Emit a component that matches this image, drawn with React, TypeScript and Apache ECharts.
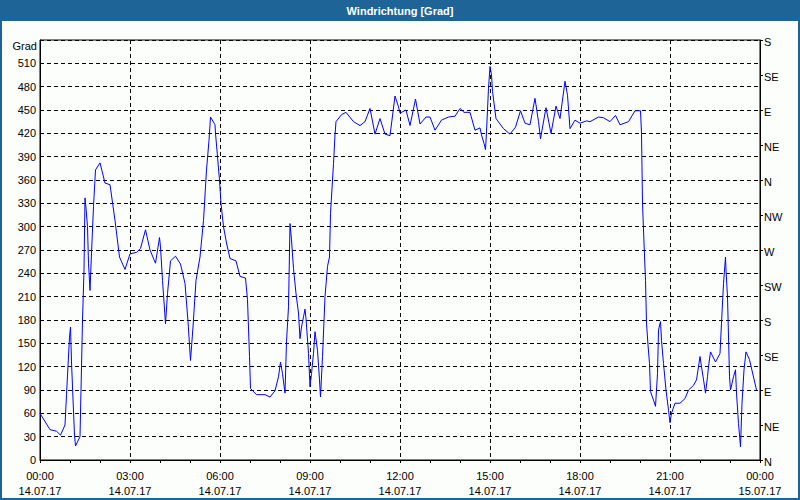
import React, { useEffect, useRef } from "react";
import * as echarts from "echarts";

// minutes since 14.07.17 00:00
const minutes = [
  0, 20, 33, 41, 50, 53, 59, 61, 63, 65, 69, 71, 80, 83, 85, 88, 90, 92, 95, 97,
  100, 103, 107, 111, 120, 130, 140, 150, 159, 170, 180, 193, 201, 211, 220, 231, 239, 241, 245, 251,
  255, 261, 271, 281, 290, 296, 301, 306, 312, 320, 327, 333, 338, 341, 350, 351, 359, 362, 367, 373,
  380, 392, 400, 411, 415, 419, 421, 433, 450, 460, 470, 477, 481, 485, 490, 493, 497, 500, 503, 507,
  512, 517, 520, 523, 527, 530, 532, 537, 540, 543, 547, 550, 555, 559, 561, 565, 570, 575, 579, 581,
  587, 590, 592, 603, 612, 627, 640, 650, 660, 670, 680, 690, 700, 710, 717, 720, 732, 740, 751, 760,
  772, 780, 790, 803, 817, 830, 840, 848, 860, 870, 880, 883, 888, 891, 893, 897, 900, 903, 905, 912,
  927, 940, 951, 961, 970, 980, 990, 997, 1001, 1012, 1022, 1032, 1040, 1050, 1055, 1060, 1070, 1080, 1093, 1100,
  1117, 1127, 1140, 1151, 1160, 1177, 1190, 1201, 1203, 1205, 1208, 1211, 1213, 1216, 1219, 1221, 1227, 1231, 1235, 1237,
  1241, 1243, 1247, 1252, 1257, 1260, 1263, 1270, 1280, 1290, 1297, 1307, 1313, 1317, 1320, 1323, 1328, 1331, 1335, 1337,
  1341, 1351, 1360, 1363, 1367, 1371, 1372, 1375, 1379, 1381, 1387, 1391, 1393, 1397, 1401, 1404, 1408, 1412, 1419, 1433,
];

// wind direction in degrees
const degrees = [
  60, 39, 37, 32, 45, 84, 158, 171, 126, 94, 32, 18, 30, 120, 180, 244, 337, 324, 300, 253,
  218, 266, 326, 373, 382, 356, 354, 308, 261, 245, 265, 267, 272, 296, 270, 253, 286, 274, 231, 175,
  214, 256, 262, 252, 227, 178, 128, 171, 231, 261, 308, 373, 411, 441, 431, 420, 360, 330, 300, 279,
  259, 256, 236, 234, 206, 133, 92, 84, 84, 81, 89, 107, 126, 111, 86, 152, 197, 304, 283, 246,
  214, 189, 156, 171, 184, 194, 182, 137, 94, 111, 137, 165, 141, 103, 81, 133, 210, 249, 261, 317,
  381, 418, 435, 444, 447, 435, 430, 435, 452, 419, 439, 419, 417, 468, 454, 446, 450, 430, 464, 432,
  441, 441, 424, 437, 441, 442, 452, 447, 447, 424, 427, 418, 407, 399, 422, 478, 506, 495, 474, 439,
  426, 419, 428, 449, 433, 431, 465, 435, 413, 453, 420, 455, 439, 487, 469, 426, 437, 433, 436, 435,
  441, 440, 435, 443, 431, 435, 449, 449, 420, 330, 279, 231, 176, 148, 124, 88, 77, 69, 111, 167,
  178, 154, 124, 90, 64, 48, 60, 73, 73, 79, 90, 96, 103, 120, 133, 120, 99, 86, 107, 120,
  139, 126, 137, 176, 227, 261, 244, 210, 107, 90, 107, 116, 86, 47, 17, 73, 116, 139, 129, 90,
];

const compass = ["N", "NE", "E", "SE", "S", "SW", "W", "NW", "N", "NE", "E", "SE", "S"];
const titleText = "Windrichtung [Grad]";
const unitText = "Grad";

const FONT = "'Liberation Sans', Arial, sans-serif";

export default function App() {
  const ref = useRef<HTMLDivElement>(null);
  useEffect(() => {
    document.body.style.margin = "0";
    const chart = echarts.init(ref.current!, null, { renderer: "svg" });
    const data = minutes.map((m, i) => [m, degrees[i]]);
    const pad = (n: number) => (n < 10 ? "0" + n : "" + n);
    chart.setOption({
      animation: false,
      backgroundColor: "#1e6496",
      textStyle: { fontFamily: FONT },
      graphic: [
        {
          type: "rect",
          shape: { x: 2, y: 21, width: 796, height: 477 },
          style: { fill: "#fcfefc" },
          z: -10,
          silent: true,
        },
        {
          type: "text",
          x: 400,
          y: 11,
          style: {
            text: titleText,
            fill: "#ffffff",
            font: `bold 11px ${FONT}`,
            align: "center",
            verticalAlign: "middle",
          },
        },
        {
          type: "text",
          x: 37,
          y: 46,
          style: {
            text: unitText,
            fill: "#000000",
            font: `11px ${FONT}`,
            align: "right",
            verticalAlign: "middle",
          },
        },
      ],
      grid: {
        left: 40,
        right: 40,
        top: 40,
        bottom: 40,
        show: true,
        borderColor: "#000",
        borderWidth: 1,
        backgroundColor: "transparent",
      },
      xAxis: {
        type: "value",
        min: 0,
        max: 1440,
        interval: 180,
        axisLine: { show: true, lineStyle: { color: "#000", width: 1 } },
        axisTick: { show: true, length: 3, lineStyle: { color: "#000" } },
        minorTick: { show: true, splitNumber: 3, length: 3, lineStyle: { color: "#000" } },
        splitLine: { show: true, lineStyle: { color: "#000", type: [4, 3], width: 1 } },
        axisLabel: {
          color: "#000",
          fontSize: 11,
          fontFamily: FONT,
          lineHeight: 15,
          margin: 8,
          formatter: (v: number) => {
            const h = Math.floor(v / 60) % 24;
            const mm = v % 60;
            const date = v >= 1440 ? "15.07.17" : "14.07.17";
            return `${pad(h)}:${pad(mm)}\n${date}`;
          },
        },
      },
      yAxis: [
        {
          type: "value",
          min: 0,
          max: 540,
          interval: 30,
          position: "left",
          axisLine: { show: true, lineStyle: { color: "#000", width: 1 } },
          axisTick: { show: false },
          splitLine: { show: true, lineStyle: { color: "#000", type: [4, 3], width: 1 } },
          axisLabel: {
            color: "#000",
            fontSize: 11,
            fontFamily: FONT,
            margin: 4,
            formatter: (v: number) => (v >= 540 ? "" : String(v)),
          },
        },
        {
          type: "value",
          min: 0,
          max: 540,
          interval: 45,
          position: "right",
          axisLine: { show: true, lineStyle: { color: "#000", width: 1 } },
          axisTick: { show: true, length: 3, inside: false, lineStyle: { color: "#000" } },
          splitLine: { show: false },
          axisLabel: {
            color: "#000",
            fontSize: 11,
            fontFamily: FONT,
            margin: 4,
            verticalAlign: "top",
            padding: [-4, 0, 0, 0],
            formatter: (v: number) => compass[Math.round(v / 45)] ?? "",
          },
        },
      ],
      series: [
        {
          type: "line",
          data,
          yAxisIndex: 0,
          showSymbol: false,
          symbol: "none",
          lineStyle: { color: "#0000ff", width: 1 },
          itemStyle: { color: "#0000ff" },
        },
      ],
    });
    return () => chart.dispose();
  }, []);
  return <div ref={ref} style={{ width: 800, height: 500 }} />;
}
